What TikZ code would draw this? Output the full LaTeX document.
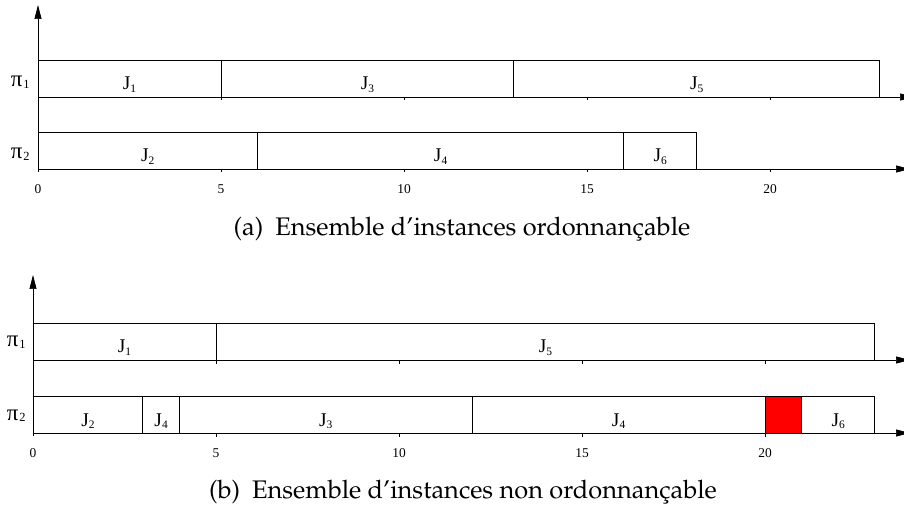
\documentclass[tikz,border=0pt]{standalone}
\usepackage{fontspec}
\setmainfont{Liberation Serif}
\usepackage[T1,TU]{fontenc}
\usetikzlibrary{arrows.meta}
\newcommand\capfont{\fontencoding{T1}\fontfamily{ppl}\fontsize{25.5}{30}\selectfont}
\newcommand\jsub[1]{\raisebox{-2.5bp}{\fontsize{11.5}{11.5}\selectfont #1}}
\newcommand\psub[1]{\kern1bp\raisebox{-1.5bp}{\fontsize{12.5}{12.5}\selectfont #1}}
\tikzset{
  jobbox/.style={draw, inner sep=0, outer sep=0, anchor=south west, minimum height=36.5bp},
  joblabel/.style={anchor=base, inner sep=0, font=\fontsize{19.5}{19.5}\selectfont},
  ticklabel/.style={inner sep=0, font=\fontsize{13.5}{13.5}\selectfont},
  proclabel/.style={anchor=base east, inner sep=0, font=\fontsize{23}{23}\selectfont},
  axisarrow/.style={-{Triangle[length=14bp,width=7bp]}},
  caplabel/.style={anchor=base, inner sep=0, font=\capfont}
}
\newcommand\gjob[7]{%
  \pgfmathsetmacro\gx{#2+#3*36.6}%
  \pgfmathsetmacro\gw{(#4-#3)*36.6}%
  \node[jobbox, minimum width=\gw bp, fill=#7] (#1) at (\gx,#5) {};
  \node[joblabel] (#1l) at ([yshift=7bp]#1.south) {#6};
}
\begin{document}
\begin{tikzpicture}[x=1bp,y=-1bp,line width=0.7bp]
\useasboundingbox (0,0) rectangle (904,506);
% ---------------- chart (a) ----------------
\gjob{a11}{38}{0}{5}{97}{J\jsub{1}}{white}
\gjob{a13}{38}{5}{13}{97}{J\jsub{3}}{white}
\gjob{a15}{38}{13}{23}{97}{J\jsub{5}}{white}
\gjob{a22}{38}{0}{6}{169}{J\jsub{2}}{white}
\gjob{a24}{38}{6}{16}{169}{J\jsub{4}}{white}
\gjob{a26}{38}{16}{18}{169}{J\jsub{6}}{white}
\coordinate (ayb) at (38,172);
\coordinate (ayt) at (38,5);
\draw[axisarrow] (ayb) -- (ayt);
\coordinate (ax1s) at (38,97);
\coordinate (ax1e) at (914,97);
\draw[axisarrow] (ax1s) -- (ax1e);
\coordinate (ax2s) at (38,169);
\coordinate (ax2e) at (910,169);
\draw[axisarrow] (ax2s) -- (ax2e);
\foreach \t in {5,10,15,20}{
  \draw (38+\t*36.6,97) -- ++(0,3.5);
  \draw (38+\t*36.6,169) -- ++(0,3.5);
}
\foreach \t in {0,5,10,15,20}{
  \node[ticklabel] (at\t) at (38+\t*36.6,189) {\t};
}
\node[proclabel] (ap1) at (30,87) {π\psub{1}};
\node[proclabel] (ap2) at (30,159) {π\psub{2}};
\node[caplabel] (capa) at (462,236) {(a)\hspace{12bp}Ensemble d'instances ordonnan\c{c}able};
% ---------------- chart (b) ----------------
\gjob{b11}{33}{0}{5}{360}{J\jsub{1}}{white}
\gjob{b15}{33}{5}{23}{360}{J\jsub{5}}{white}
\gjob{b22}{33}{0}{3}{433}{J\jsub{2}}{white}
\gjob{b24}{33}{3}{4}{433}{J\jsub{4}}{white}
\gjob{b23}{33}{4}{12}{433}{J\jsub{3}}{white}
\gjob{b24b}{33}{12}{20}{433}{J\jsub{4}}{white}
\gjob{bred}{33}{20}{21}{433}{}{red}
\gjob{b26}{33}{21}{23}{433}{J\jsub{6}}{white}
\coordinate (byb) at (33,436);
\coordinate (byt) at (33,275);
\draw[axisarrow] (byb) -- (byt);
\coordinate (bx1s) at (33,360);
\coordinate (bx1e) at (910,360);
\draw[axisarrow] (bx1s) -- (bx1e);
\coordinate (bx2s) at (33,433);
\coordinate (bx2e) at (910,433);
\draw[axisarrow] (bx2s) -- (bx2e);
\foreach \t in {5,10,15,20}{
  \draw (33+\t*36.6,360) -- ++(0,3.5);
  \draw (33+\t*36.6,433) -- ++(0,3.5);
}
\foreach \t in {0,5,10,15,20}{
  \node[ticklabel] (bt\t) at (33+\t*36.6,453) {\t};
}
\node[proclabel] (bp1) at (26,347) {π\psub{1}};
\node[proclabel] (bp2) at (26,420) {π\psub{2}};
\node[caplabel] (capb) at (463,498) {(b)\hspace{12bp}Ensemble d'instances non ordonnan\c{c}able};
\end{tikzpicture}
\end{document}
